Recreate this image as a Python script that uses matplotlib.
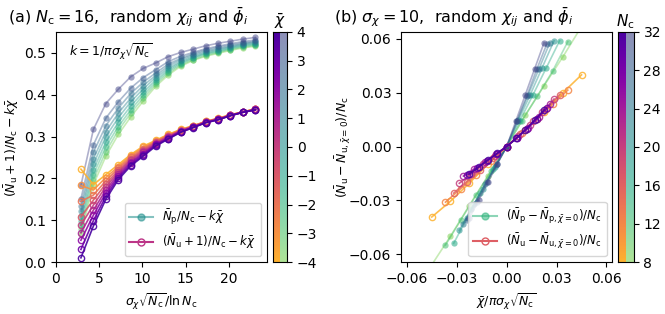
import numpy as np
import matplotlib.pyplot as plt
from matplotlib.colors import ListedColormap, Normalize

# ---- panel (a): Nc = 16, sweep of sigma_chi, one line per chi_bar ----
chi_bar = [-4, -3, -2, -1, 0, 1, 2, 3, 4]
sigma_a = [2, 3, 4, 5, 6, 7, 8, 9, 10, 11, 12, 13, 14, 15, 16]
Nc_a = 16

# N_p/N_c - k*chi_bar, rows follow chi_bar
np_a = [
    [0.068, 0.185, 0.253, 0.305, 0.347, 0.385, 0.420, 0.447, 0.468, 0.482, 0.492, 0.499, 0.506, 0.512, 0.516],
    [0.078, 0.197, 0.264, 0.315, 0.356, 0.392, 0.425, 0.451, 0.471, 0.484, 0.494, 0.501, 0.508, 0.514, 0.518],
    [0.089, 0.209, 0.276, 0.324, 0.364, 0.399, 0.430, 0.455, 0.474, 0.487, 0.497, 0.503, 0.510, 0.516, 0.520],
    [0.099, 0.221, 0.287, 0.334, 0.373, 0.406, 0.435, 0.459, 0.477, 0.489, 0.499, 0.505, 0.512, 0.518, 0.522],
    [0.111, 0.234, 0.300, 0.345, 0.383, 0.414, 0.441, 0.463, 0.480, 0.492, 0.501, 0.508, 0.514, 0.520, 0.524],
    [0.122, 0.247, 0.312, 0.356, 0.392, 0.422, 0.446, 0.468, 0.484, 0.495, 0.504, 0.510, 0.516, 0.522, 0.526],
    [0.135, 0.262, 0.326, 0.368, 0.403, 0.430, 0.452, 0.473, 0.487, 0.498, 0.507, 0.513, 0.519, 0.524, 0.528],
    [0.151, 0.280, 0.344, 0.383, 0.416, 0.441, 0.460, 0.479, 0.492, 0.501, 0.510, 0.516, 0.522, 0.527, 0.531],
    [0.183, 0.317, 0.379, 0.413, 0.443, 0.463, 0.476, 0.491, 0.501, 0.509, 0.517, 0.523, 0.528, 0.533, 0.537],
]

# (N_u + 1)/N_c - k*chi_bar, rows follow chi_bar
nu_a = [
    [0.222, 0.185, 0.209, 0.233, 0.257, 0.277, 0.291, 0.305, 0.317, 0.326, 0.336, 0.344, 0.352, 0.359, 0.366],
    [0.183, 0.172, 0.202, 0.228, 0.254, 0.274, 0.289, 0.304, 0.316, 0.325, 0.336, 0.343, 0.352, 0.359, 0.366],
    [0.145, 0.160, 0.194, 0.224, 0.250, 0.271, 0.288, 0.302, 0.315, 0.325, 0.335, 0.343, 0.351, 0.359, 0.365],
    [0.108, 0.148, 0.187, 0.219, 0.247, 0.268, 0.286, 0.301, 0.314, 0.324, 0.335, 0.342, 0.351, 0.359, 0.365],
    [0.088, 0.136, 0.180, 0.215, 0.244, 0.265, 0.284, 0.300, 0.314, 0.324, 0.335, 0.342, 0.351, 0.358, 0.365],
    [0.070, 0.124, 0.172, 0.211, 0.240, 0.262, 0.282, 0.298, 0.313, 0.323, 0.334, 0.341, 0.351, 0.358, 0.365],
    [0.052, 0.112, 0.165, 0.206, 0.237, 0.259, 0.281, 0.297, 0.312, 0.322, 0.334, 0.341, 0.350, 0.358, 0.364],
    [0.030, 0.099, 0.157, 0.202, 0.233, 0.256, 0.279, 0.295, 0.311, 0.322, 0.333, 0.340, 0.350, 0.358, 0.364],
    [0.010, 0.086, 0.150, 0.197, 0.230, 0.253, 0.277, 0.294, 0.310, 0.321, 0.333, 0.340, 0.350, 0.358, 0.364],
]

# ---- panel (b): sigma_chi = 10, one line per Nc ----
sigma_b = 10
Nc_b = [8, 12, 16, 20, 24, 28, 32]
np_b = [
    [-0.066, -0.050, -0.033, -0.0165, 0.0, 0.0175, 0.034, 0.050, 0.067],
    [-0.055, -0.041, -0.027, -0.0135, 0.0, 0.0145, 0.028, 0.042, 0.0585],
    [-0.054, -0.040, -0.026, -0.0128, 0.0, 0.0145, 0.029, 0.044, 0.059],
    [-0.0467, -0.035, -0.0235, -0.0115, 0.0, 0.0148, 0.029, 0.044, 0.059],
    [-0.043, -0.032, -0.021, -0.0105, 0.0, 0.0145, 0.029, 0.0435, 0.058],
    [-0.041, -0.031, -0.020, -0.010, 0.0, 0.014, 0.028, 0.043, 0.057],
    [-0.040, -0.030, -0.020, -0.0098, 0.0, 0.0145, 0.029, 0.0435, 0.058],
]
nu_b = [
    [-0.0393, -0.0305, -0.0205, -0.0098, 0.0, 0.0095, 0.0195, 0.0300, 0.0400],
    [-0.031, -0.0235, -0.016, -0.008, 0.0, 0.0075, 0.0155, 0.0235, 0.0315],
    [-0.026, -0.0195, -0.013, -0.0065, 0.0, 0.0068, 0.014, 0.021, 0.029],
    [-0.0205, -0.0155, -0.010, -0.005, 0.0, 0.0058, 0.012, 0.019, 0.0265],
    [-0.0165, -0.0125, -0.0085, -0.0042, 0.0, 0.005, 0.0105, 0.0165, 0.0235],
    [-0.016, -0.012, -0.008, -0.004, 0.0, 0.0047, 0.0098, 0.0155, 0.0215],
    [-0.0155, -0.0115, -0.0075, -0.0038, 0.0, 0.0045, 0.0093, 0.0148, 0.0205],
]


def trunc(name, lo, hi):
    return ListedColormap(plt.get_cmap(name)(np.linspace(lo, hi, 256)))


cmap_u = trunc('plasma', 0.83, 0.12)
cmap_p = trunc('viridis', 0.80, 0.20)


def draw_cbar(cax, vmin, vmax, ticks, label):
    grad = np.linspace(0, 1, 256).reshape(-1, 1)
    cax.imshow(grad, cmap=cmap_u, extent=[0, 0.5, vmin, vmax], origin='lower', aspect='auto')
    cax.imshow(grad, cmap=cmap_p, extent=[0.5, 1, vmin, vmax], origin='lower', aspect='auto', alpha=0.6)
    cax.set_xlim(0, 1)
    cax.set_ylim(vmin, vmax)
    cax.set_xticks([])
    cax.yaxis.tick_right()
    cax.set_yticks(ticks)
    cax.set_title(label, fontsize=11, pad=4)


fig = plt.figure(figsize=(6.65, 3.14), dpi=100)
ax1 = fig.add_axes([0.0842, 0.1656, 0.317, 0.7325])
cax1 = fig.add_axes([0.4105, 0.1656, 0.021, 0.7325])
ax2 = fig.add_axes([0.603, 0.1656, 0.318, 0.7325])
cax2 = fig.add_axes([0.929, 0.1656, 0.024, 0.7325])

# panel (a)
x_a = np.array(sigma_a) * np.sqrt(Nc_a) / np.log(Nc_a)
norm_a = Normalize(-4, 4)
for c, row in zip(chi_bar, np_a):
    col = cmap_p(norm_a(c))
    ax1.plot(x_a, row, '-', color=col, alpha=0.42, lw=1.2, zorder=2)
    ax1.plot(x_a, row, 'o', color=col, alpha=0.5, ms=4.5, mew=0, zorder=2)
for c, row in zip(chi_bar, nu_a):
    col = cmap_u(norm_a(c))
    ax1.plot(x_a, row, '-o', color=col, lw=1.2, ms=4.5, mfc='none', mew=1.0, alpha=0.9, zorder=3)

ax1.plot([], [], '-o', color=cmap_p(0.5), alpha=0.55, lw=1.5, ms=5, label=r'$\bar{N}_\mathrm{p}/N_\mathrm{c} - k\bar{\chi}$')
ax1.plot([], [], '-o', color=cmap_u(0.55), lw=1.5, ms=5, mfc='none', label=r'$(\bar{N}_\mathrm{u}+1)/N_\mathrm{c} - k\bar{\chi}$')
ax1.legend(loc='lower right', fontsize=8.5)
ax1.text(0.06, 0.96, r'$k = 1/\pi\sigma_\chi\sqrt{N_\mathrm{c}}$', transform=ax1.transAxes,
         va='top', ha='left', fontsize=9)
ax1.set_xlim(0, 24.4)
ax1.set_ylim(0, 0.55)
ax1.set_xticks([0, 5, 10, 15, 20])
ax1.set_yticks([0.0, 0.1, 0.2, 0.3, 0.4, 0.5])
ax1.set_xlabel(r'$\sigma_\chi\sqrt{N_\mathrm{c}}/\ln N_\mathrm{c}$', fontsize=9)
ax1.set_ylabel(r'$(\bar{N}_\mathrm{u}+1)/N_\mathrm{c} - k\bar{\chi}$', fontsize=9, labelpad=2)
fig.text(0.012, 0.945, r'(a) $N_\mathrm{c} = 16$,  random $\chi_{ij}$ and $\bar{\phi}_i$', fontsize=11.5, va='center')
draw_cbar(cax1, -4, 4, [-4, -3, -2, -1, 0, 1, 2, 3, 4], r'$\bar{\chi}$')

# panel (b)
norm_b = Normalize(8, 32)
chi = np.array(chi_bar)
for n, row in zip(Nc_b, np_b):
    col = cmap_p(norm_b(n))
    xb = chi / (np.pi * sigma_b * np.sqrt(n))
    ax2.plot(xb, row, '-', color=col, alpha=0.42, lw=1.2, zorder=2)
    ax2.plot(xb, row, 'o', color=col, alpha=0.55, ms=4.5, mew=0, zorder=2)
for n, row in zip(Nc_b, nu_b):
    col = cmap_u(norm_b(n))
    xb = chi / (np.pi * sigma_b * np.sqrt(n))
    ax2.plot(xb, row, '-o', color=col, lw=1.2, ms=4.5, mfc='none', mew=1.0, alpha=0.85, zorder=3)

ax2.plot([], [], '-o', color=cmap_p(0.25), alpha=0.55, lw=1.5, ms=5,
         label=r'$(\bar{N}_\mathrm{p} - \bar{N}_{\mathrm{p},\bar{\chi}=0})/N_\mathrm{c}$')
ax2.plot([], [], '-o', color=cmap_u(0.35), lw=1.5, ms=5, mfc='none',
         label=r'$(\bar{N}_\mathrm{u} - \bar{N}_{\mathrm{u},\bar{\chi}=0})/N_\mathrm{c}$')
ax2.legend(loc='lower right', fontsize=8.5)
ax2.set_xlim(-0.0635, 0.0636)
ax2.set_ylim(-0.0644, 0.0639)
ticks_b = [-0.06, -0.03, 0.0, 0.03, 0.06]
ax2.set_xticks(ticks_b)
ax2.set_yticks(ticks_b)
ax2.set_xticklabels(['\u22120.06', '\u22120.03', '0.00', '0.03', '0.06'])
ax2.set_yticklabels(['\u22120.06', '\u22120.03', '0.00', '0.03', '0.06'])
ax2.set_xlabel(r'$\bar{\chi}/\pi\sigma_\chi\sqrt{N_\mathrm{c}}$', fontsize=9)
ax2.set_ylabel(r'$(\bar{N}_\mathrm{u} - \bar{N}_{\mathrm{u},\bar{\chi}=0})/N_\mathrm{c}$', fontsize=9, labelpad=-3)
fig.text(0.503, 0.945, r'(b) $\sigma_\chi = 10$,  random $\chi_{ij}$ and $\bar{\phi}_i$', fontsize=11.5, va='center')
draw_cbar(cax2, 8, 32, [8, 12, 16, 20, 24, 28, 32], r'$N_\mathrm{c}$')

fig.savefig('out.png', dpi=100)
